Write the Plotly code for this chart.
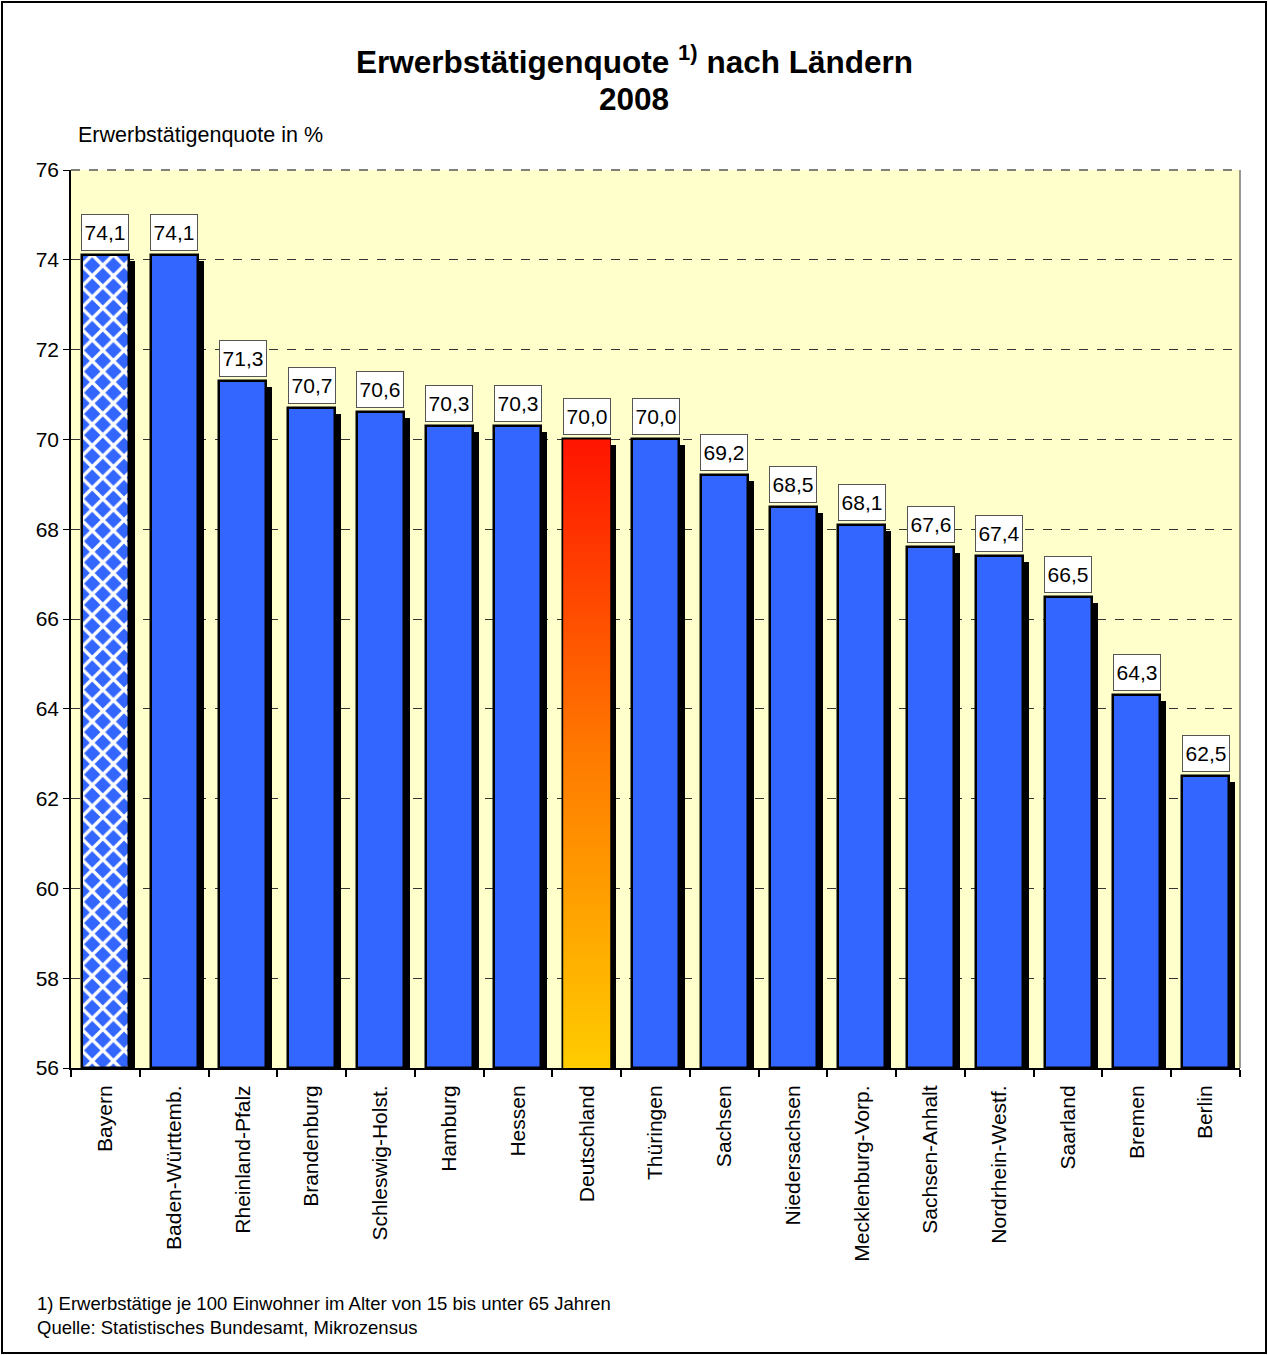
import plotly.graph_objects as go

# ---- data ----
laender = ["Bayern", "Baden-Württemb.", "Rheinland-Pfalz", "Brandenburg", "Schleswig-Holst.",
           "Hamburg", "Hessen", "Deutschland", "Thüringen", "Sachsen", "Niedersachsen",
           "Mecklenburg-Vorp.", "Sachsen-Anhalt", "Nordrhein-Westf.", "Saarland", "Bremen", "Berlin"]
quote = [74.1, 74.1, 71.3, 70.7, 70.6, 70.3, 70.3, 70.0, 70.0, 69.2, 68.5, 68.1, 67.6, 67.4, 66.5, 64.3, 62.5]
y_ticks = [56, 58, 60, 62, 64, 66, 68, 70, 72, 74, 76]

# ---- layout geometry (pixels) ----
W, H = 1268, 1355
L, R, T, B = 71, 1240, 170, 1068
Y0, Y1 = 56, 76
pw, ph = R - L, B - T
px_per_x = pw / len(laender)
px_per_y = ph / (Y1 - Y0)

FONT = "Liberation Sans, Arial, sans-serif"
BLUE = "#3366FF"
bw = 0.684
sh_dx = 6 / px_per_x
sh_dy = 6 / px_per_y

xs = list(range(len(laender)))
idx_de = laender.index("Deutschland")
idx_by = laender.index("Bayern")

fig = go.Figure()

# shadows
fig.add_trace(go.Bar(
    x=xs, y=[v - sh_dy - Y0 for v in quote], base=Y0,
    width=bw, offset=-bw / 2 + sh_dx,
    marker=dict(color="black", line=dict(width=0)),
    hoverinfo="skip", showlegend=False))

# gradient fill for Deutschland
xd = idx_de
vd = quote[idx_de]
fig.add_trace(go.Scatter(
    x=[xd - bw / 2, xd + bw / 2, xd + bw / 2, xd - bw / 2, xd - bw / 2],
    y=[Y0, Y0, vd, vd, Y0],
    mode="lines", line=dict(width=0), fill="toself",
    fillgradient=dict(type="vertical", start=Y0, stop=vd,
                      colorscale=[[0, "#FFCC00"], [0.5, "#FF7A00"], [1, "#FF1400"]]),
    hoverinfo="skip", showlegend=False))

# Bayern bar with diamond pattern
fig.add_trace(go.Bar(
    x=[idx_by], y=[quote[idx_by] - Y0], base=Y0,
    width=bw, offset=-bw / 2,
    marker=dict(color=BLUE, line=dict(color="black", width=2.5),
                pattern=dict(shape="x", fgcolor="white", bgcolor=BLUE, fgopacity=1,
                             size=15, solidity=0.4, fillmode="replace")),
    hoverinfo="skip", showlegend=False))

# other bars
others = [i for i in xs if i != idx_by]
fig.add_trace(go.Bar(
    x=others, y=[quote[i] - Y0 for i in others], base=Y0,
    width=bw, offset=-bw / 2,
    marker=dict(color=["rgba(0,0,0,0)" if i == idx_de else BLUE for i in others],
                line=dict(color="black", width=2.5)),
    hoverinfo="skip", showlegend=False))

# value labels
for i, v in enumerate(quote):
    fig.add_annotation(x=i, y=v, xref="x", yref="y", text=f"{v:.1f}".replace(".", ","),
                       showarrow=False, yanchor="bottom", yshift=4,
                       font=dict(family=FONT, size=21, color="black"),
                       bgcolor="white", bordercolor="#555555", borderwidth=1,
                       borderpad=0, width=46, height=35)

def px2paper_x(p):
    return (p - L) / pw

def px2paper_y(p):
    return (B - p) / ph

# titles
fig.add_annotation(x=px2paper_x(634), y=px2paper_y(60), xref="paper", yref="paper",
                   text="<b>Erwerbstätigenquote <sup>1)</sup> nach Ländern</b>", showarrow=False,
                   font=dict(family=FONT, size=31.5, color="black"), xanchor="center", yanchor="middle")
fig.add_annotation(x=px2paper_x(634), y=px2paper_y(99), xref="paper", yref="paper",
                   text="<b>2008</b>", showarrow=False,
                   font=dict(family=FONT, size=31.5, color="black"), xanchor="center", yanchor="middle")
fig.add_annotation(x=px2paper_x(76), y=px2paper_y(135), xref="paper", yref="paper",
                   text="Erwerbstätigenquote in %", showarrow=False,
                   font=dict(family=FONT, size=21.5, color="black"), xanchor="left", yanchor="middle")
fig.add_annotation(x=px2paper_x(35), y=px2paper_y(1303), xref="paper", yref="paper",
                   text="1) Erwerbstätige je 100 Einwohner im Alter von 15 bis unter 65 Jahren", showarrow=False,
                   font=dict(family=FONT, size=18.5, color="black"), xanchor="left", yanchor="middle")
fig.add_annotation(x=px2paper_x(35), y=px2paper_y(1327), xref="paper", yref="paper",
                   text="Quelle: Statistisches Bundesamt, Mikrozensus", showarrow=False,
                   font=dict(family=FONT, size=18.5, color="black"), xanchor="left", yanchor="middle")

# outer border, top dashed edge and right edge of plot area
fig.add_shape(type="rect", xref="paper", yref="paper",
              x0=px2paper_x(2), x1=px2paper_x(1266), y0=px2paper_y(1353), y1=px2paper_y(2),
              line=dict(color="black", width=2), fillcolor="rgba(0,0,0,0)", layer="above")
fig.add_shape(type="line", xref="paper", yref="paper", x0=0, x1=1, y0=1, y1=1,
              line=dict(color="#555555", width=1.5, dash="dash"), layer="above")
fig.add_shape(type="line", xref="paper", yref="paper", x0=1, x1=1, y0=0, y1=1,
              line=dict(color="#333333", width=1), layer="above")

fig.update_layout(
    width=W, height=H,
    margin=dict(l=L, r=W - R, t=T, b=H - B, pad=0),
    paper_bgcolor="white", plot_bgcolor="#FFFFCC",
    barmode="overlay", bargap=0,
    showlegend=False,
    font=dict(family=FONT, size=21, color="black"),
)
fig.update_xaxes(
    range=[-0.5, len(laender) - 0.5], tickmode="array", tickvals=xs, ticktext=laender,
    tickangle=-90, ticks="", showgrid=False, zeroline=False,
    showline=True, linecolor="black", linewidth=2,
    tickfont=dict(family=FONT, size=21, color="black"),
    ticklabelstandoff=7,
    minor=dict(tickmode="linear", tick0=-0.5, dtick=1, ticks="outside", ticklen=7,
               tickcolor="black", tickwidth=2, showgrid=False),
)
fig.update_yaxes(
    range=[Y0, Y1], tickmode="array", tickvals=y_ticks,
    ticks="outside", ticklen=6, tickcolor="black", tickwidth=1,
    showgrid=True, gridcolor="#333333", griddash="dash", gridwidth=1,
    zeroline=False, showline=True, linecolor="black", linewidth=1.5,
    tickfont=dict(family=FONT, size=21, color="black"),
)

fig.write_html("out.html", config={"displayModeBar": False},
               post_script="document.body.style.margin='0';")
